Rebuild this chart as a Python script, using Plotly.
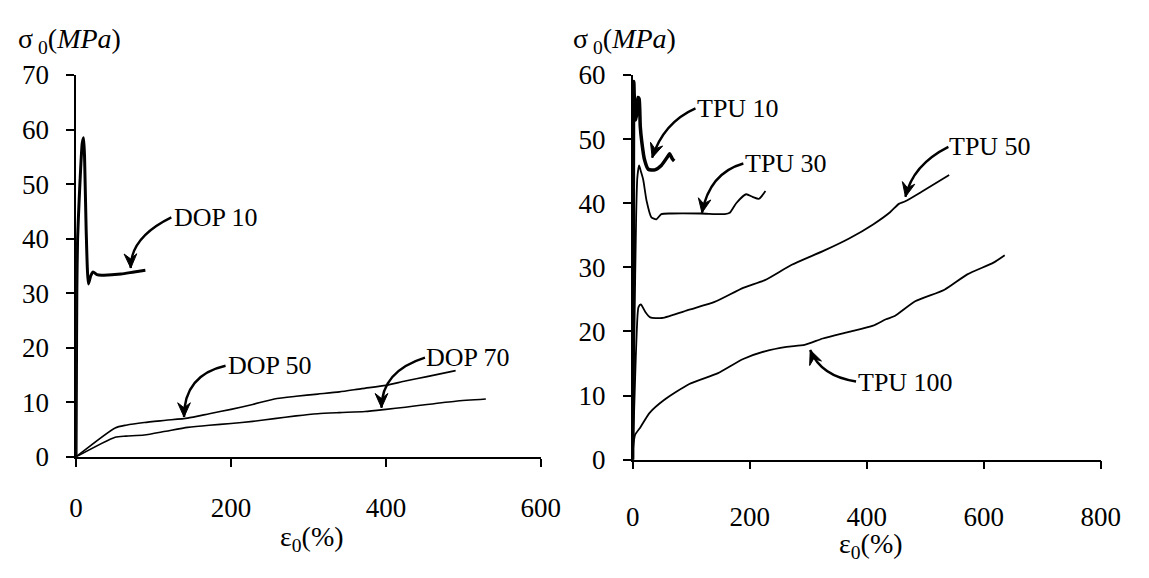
import math
import plotly.graph_objects as go

# ---------------- data ----------------
dop10_x = [0, 0.5, 1, 2, 4, 6, 8, 9.7, 11, 13, 16, 19, 22, 27, 33, 58, 75, 89.5]
dop10_y = [0, 15, 30, 40, 47, 53, 57.5, 58.5, 55, 42, 31.7, 33.2, 33.9, 33.4, 33.3, 33.5, 33.9, 34.2]

dop50_x = [0, 50.5, 64.5, 88, 116, 144, 172, 200, 228, 256, 284, 312, 340, 369, 400, 425, 453, 490]
dop50_y = [0, 5.3, 5.8, 6.3, 6.7, 7.1, 7.9, 8.7, 9.6, 10.6, 11.1, 11.5, 11.9, 12.5, 13.1, 13.9, 14.7, 15.8]

dop70_x = [0, 50.5, 64.5, 88, 116, 144, 172, 200, 228, 256, 284, 312, 340, 373, 400, 425, 453, 490, 529]
dop70_y = [0, 3.6, 3.8, 4.0, 4.7, 5.4, 5.8, 6.1, 6.5, 7.0, 7.5, 7.9, 8.1, 8.3, 8.7, 9.1, 9.6, 10.2, 10.6]

tpu10_x = [0, 1, 1.5, 2, 3, 5, 7, 9, 11, 13, 15.6, 20, 26.7, 37.8, 49, 60, 63, 68, 71]
tpu10_y = [0, 30, 55, 59, 56, 53, 54, 56.5, 56.3, 52, 49.6, 46.9, 45.3, 45.2, 45.9, 47.3, 47.7, 46.9, 46.6]

tpu30_x = [0, 3, 6, 8, 11, 14, 18, 24, 32, 40.6, 49, 65.7, 116, 157.5, 166, 177, 194, 205, 216, 227]
tpu30_y = [0, 20, 38, 44, 45.9, 45, 43.7, 40.3, 37.8, 37.5, 38.3, 38.4, 38.4, 38.3, 38.5, 40.0, 41.4, 41.0, 40.7, 41.9]

tpu50_x = [0, 4, 7, 10, 14, 22, 30, 50, 97, 140, 189, 226, 272, 327, 370, 411, 440, 455, 466, 494, 541]
tpu50_y = [0, 12, 20, 23.8, 24.2, 23, 22.2, 22.1, 23.4, 24.6, 26.8, 28.0, 30.4, 32.6, 34.5, 36.7, 38.6, 39.9, 40.3, 41.8, 44.4]

tpu100_x = [0, 1, 4.3, 13.6, 29, 53.7, 96.9, 146, 189, 226, 263, 294, 325, 368, 411, 433, 448, 483, 533, 572, 616, 636]
tpu100_y = [0, 2, 3.9, 5.1, 7.3, 9.3, 11.8, 13.5, 15.7, 16.9, 17.6, 17.9, 18.9, 19.9, 20.9, 21.9, 22.4, 24.7, 26.5, 28.9, 30.7, 31.9]

left_xticks = [0, 200, 400, 600]
left_yticks = [0, 10, 20, 30, 40, 50, 60, 70]
right_xticks = [0, 200, 400, 600, 800]
right_yticks = [0, 10, 20, 30, 40, 50, 60]

# curve labels: text, panel, label anchor, arrow start, arrow control, arrow tip (data units)
label_text = ["DOP 10", "DOP 50", "DOP 70", "TPU 10", "TPU 30", "TPU 50", "TPU 100"]
label_panel = [1, 1, 1, 2, 2, 2, 2]
label_pos = [(125, 43.9), (194.6, 16.7), (450.4, 18.2), (109, 54.7), (190.9, 46.2), (539.7, 48.8), (383.7, 12.1)]
arrow_start = [(123, 43.9), (193, 16.7), (450.4, 18.2), (107.4, 54.8), (189.2, 46.2), (539.7, 48.8), (381.9, 12.2)]
arrow_ctrl = [(69.8, 40.2), (139.4, 15.0), (394.3, 15.7), (52.8, 52.6), (131.2, 44.7), (478.6, 46.0), (321.7, 13.0)]
arrow_tip = [(70.6, 34.6), (139.4, 7.3), (394.3, 9.0), (33.4, 47.1), (118.5, 38.5), (466.3, 41.0), (303.5, 17.1)]

# ---------------- layout geometry (pixels) ----------------
W, H = 1149, 578
L_X0, L_X1, L_YT, L_YB = 70.7, 546.7, 63.3, 466.0
R_X0, R_X1, R_YT, R_YB = 640.7, 1120.0, 63.3, 469.0
L_XMAX, L_YMAX, R_XMAX, R_YMAX = 600, 70, 800, 60
FONT = "Liberation Serif"

fig = go.Figure()

def add_line(x, y, panel, width):
    fig.add_trace(go.Scatter(
        x=x, y=y, mode="lines",
        line=dict(color="black", width=width, shape="spline", smoothing=0.6),
        xaxis="x" if panel == 1 else "x2",
        yaxis="y" if panel == 1 else "y2",
        showlegend=False, hoverinfo="skip"))

add_line(dop10_x, dop10_y, 1, 3)
add_line(dop50_x, dop50_y, 1, 1.6)
add_line(dop70_x, dop70_y, 1, 1.6)
add_line(tpu10_x, tpu10_y, 2, 3.5)
add_line(tpu30_x, tpu30_y, 2, 1.8)
add_line(tpu50_x, tpu50_y, 2, 1.8)
add_line(tpu100_x, tpu100_y, 2, 1.8)

annotations = []
shapes = []
HEAD_LEN, HEAD_HALF, NOTCH = 15.0, 6.5, 0.65
for txt, pan, pos, s, c, t in zip(label_text, label_panel, label_pos, arrow_start, arrow_ctrl, arrow_tip):
    xr = "x" if pan == 1 else "x2"
    yr = "y" if pan == 1 else "y2"
    if pan == 1:
        sx, sy = (L_X1 - L_X0) / L_XMAX, (L_YB - L_YT) / L_YMAX
    else:
        sx, sy = (R_X1 - R_X0) / R_XMAX, (R_YB - R_YT) / R_YMAX
    annotations.append(dict(x=pos[0], y=pos[1], xref=xr, yref=yr, text=txt,
                            showarrow=False, xanchor="left", yanchor="middle",
                            font=dict(family=FONT, size=26, color="black"),
                            borderpad=0))
    shapes.append(dict(type="path", xref=xr, yref=yr,
                       path=f"M {s[0]},{s[1]} Q {c[0]},{c[1]} {t[0]},{t[1]}",
                       line=dict(color="black", width=2.4)))
    # arrowhead, built in pixel space along the curve tangent at the tip
    dxp, dyp = (t[0] - c[0]) * sx, -(t[1] - c[1]) * sy
    n = math.hypot(dxp, dyp)
    ux, uy = dxp / n, dyp / n
    px_, py_ = -uy, ux
    pts_pix = [(0, 0),
               (-ux * HEAD_LEN + px_ * HEAD_HALF, -uy * HEAD_LEN + py_ * HEAD_HALF),
               (-ux * HEAD_LEN * NOTCH, -uy * HEAD_LEN * NOTCH),
               (-ux * HEAD_LEN - px_ * HEAD_HALF, -uy * HEAD_LEN - py_ * HEAD_HALF)]
    pts = [(t[0] + a / sx, t[1] - b / sy) for a, b in pts_pix]
    path = "M " + " L ".join(f"{a},{b}" for a, b in pts) + " Z"
    shapes.append(dict(type="path", xref=xr, yref=yr, path=path,
                       fillcolor="black", line=dict(color="black", width=1)))

def paper(px, py):
    return px / W, 1 - py / H

# axis titles
for (px, py, txt) in [(64, 27, "σ<sub> 0</sub>(<i>MPa</i>)"), (632, 27, "σ<sub> 0</sub>(<i>MPa</i>)"),
                      (312, 552, "ε<sub>0</sub>(%)"), (885, 560, "ε<sub>0</sub>(%)")]:
    xp, yp = paper(px, py)
    annotations.append(dict(x=xp, y=yp, xref="paper", yref="paper", text=txt,
                            showarrow=False, xanchor="center", yanchor="middle",
                            font=dict(family=FONT, size=28, color="black")))

axis_common = dict(showgrid=False, zeroline=False, showline=True, linecolor="black",
                   linewidth=1.5, ticks="outside", ticklen=8, tickwidth=1.5, tickcolor="black",
                   tickfont=dict(family=FONT, size=27, color="black"), mirror=False)

fig.update_layout(
    width=W, height=H, margin=dict(l=0, r=0, t=0, b=0),
    paper_bgcolor="white", plot_bgcolor="white", showlegend=False,
    xaxis=dict(domain=[L_X0 / W, L_X1 / W], range=[0, L_XMAX], tickvals=left_xticks,
               anchor="y", ticklabelstandoff=18, **axis_common),
    yaxis=dict(domain=[1 - L_YB / H, 1 - L_YT / H], range=[0, L_YMAX], tickvals=left_yticks,
               anchor="x", ticklabelstandoff=12, **axis_common),
    xaxis2=dict(domain=[R_X0 / W, R_X1 / W], range=[0, R_XMAX], tickvals=right_xticks,
                anchor="y2", ticklabelstandoff=24, **axis_common),
    yaxis2=dict(domain=[1 - R_YB / H, 1 - R_YT / H], range=[0, R_YMAX], tickvals=right_yticks,
                anchor="x2", ticklabelstandoff=12, **axis_common),
    annotations=annotations, shapes=shapes,
)

fig.write_html("out.html")
